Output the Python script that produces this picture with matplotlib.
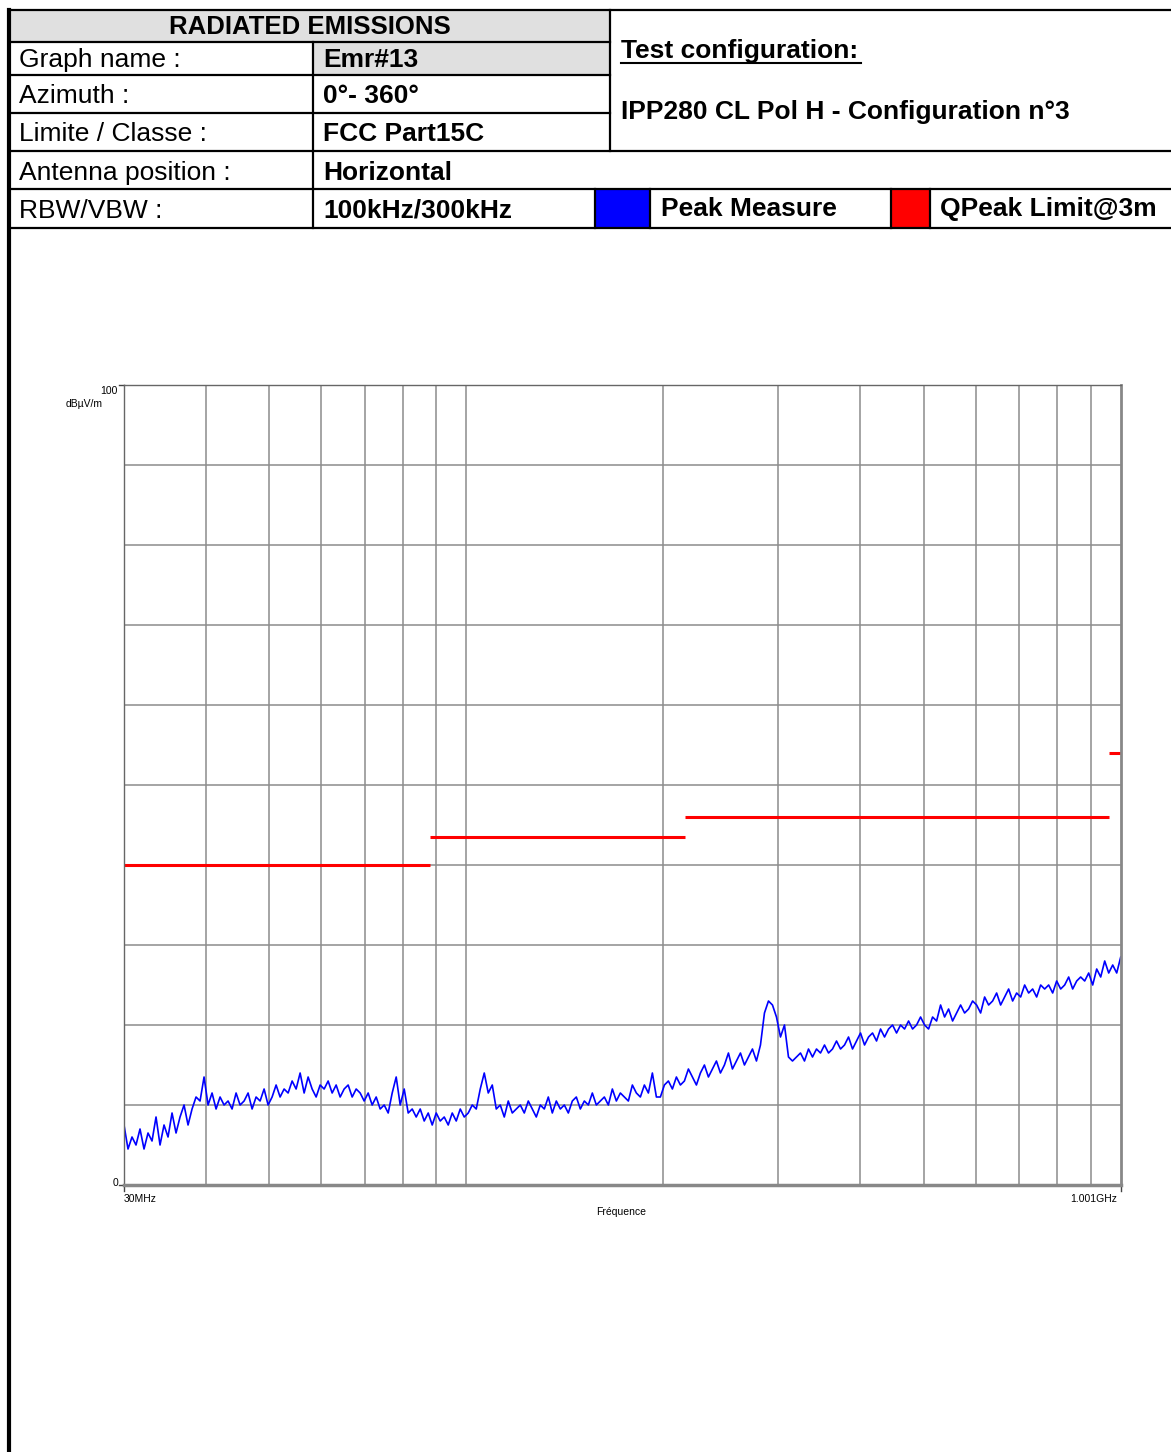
import matplotlib
matplotlib.use("Agg")
import matplotlib.pyplot as plt
import matplotlib.ticker as mtick
import numpy as np

plt.rcParams["font.family"] = ["Liberation Sans", "DejaVu Sans"]

# header table texts
title_text = "RADIATED EMISSIONS"
row_labels = ["Graph name :", "Azimuth :", "Limite / Classe :", "Antenna position :", "RBW/VBW :"]
row_values = ["Emr#13", "0°- 360°", "FCC Part15C", "Horizontal", "100kHz/300kHz"]
config_title = "Test configuration:"
config_text = "IPP280 CL Pol H - Configuration n°3"
legend_names = ["Peak Measure", "QPeak Limit@3m"]
legend_colors = ["#0000ff", "#ff0000"]

# limit lines (MHz start, MHz stop, dBuV/m)
limit_start = [30, 88, 216, 960]
limit_stop = [88, 216, 960, 1001]
limit_level = [40, 43.5, 46, 54]

# peak measure, dBuV/m, read along the sweep (log spaced 30MHz -> 1GHz)
peak_db = [
    7.5, 4.5, 6.0, 5.0, 7.0, 4.5, 6.5, 5.5, 8.5, 5.0,
    7.5, 6.0, 9.0, 6.5, 8.5, 10.0, 7.5, 9.5, 11.0, 10.5,
    13.5, 10.0, 11.5, 9.5, 11.0, 10.0, 10.5, 9.5, 11.5, 10.0,
    10.5, 11.5, 9.5, 11.0, 10.5, 12.0, 10.0, 11.0, 12.5, 11.0,
    12.0, 11.5, 13.0, 12.0, 14.0, 11.5, 13.5, 12.0, 11.0, 12.5,
    12.0, 13.0, 11.5, 12.5, 11.0, 12.0, 12.5, 11.0, 12.0, 11.5,
    10.5, 11.5, 10.0, 11.0, 9.5, 10.0, 9.0, 11.5, 13.5, 10.0,
    12.0, 9.0, 9.5, 8.5, 9.5, 8.0, 9.0, 7.5, 9.0, 8.0,
    8.5, 7.5, 9.0, 8.0, 9.5, 8.5, 9.0, 10.0, 9.5, 12.0,
    14.0, 11.5, 12.5, 9.5, 10.0, 8.5, 10.5, 9.0, 9.5, 10.0,
    9.0, 10.5, 9.5, 8.5, 10.0, 9.5, 11.0, 9.0, 10.5, 9.5,
    10.0, 9.0, 10.5, 11.0, 9.5, 10.5, 10.0, 11.5, 10.0, 10.5,
    11.0, 10.0, 12.0, 10.5, 11.5, 11.0, 10.5, 12.5, 11.5, 11.0,
    12.5, 11.5, 14.0, 11.0, 11.0, 12.5, 13.0, 12.0, 13.5, 12.5,
    13.0, 14.5, 13.5, 12.5, 14.0, 15.0, 13.5, 14.5, 15.5, 14.0,
    15.0, 16.5, 14.5, 15.5, 16.5, 15.0, 16.0, 17.0, 15.5, 17.5,
    21.5, 23.0, 22.5, 21.0, 18.5, 20.0, 16.0, 15.5, 16.0, 16.5,
    15.5, 17.0, 16.0, 17.0, 16.5, 17.5, 16.5, 17.0, 18.0, 17.0,
    17.5, 18.5, 17.0, 18.0, 19.0, 17.5, 18.5, 19.0, 18.0, 19.5,
    18.5, 19.5, 20.0, 19.0, 20.0, 19.5, 20.5, 19.5, 20.0, 21.0,
    20.0, 19.5, 21.0, 20.5, 22.5, 21.0, 22.0, 20.5, 21.5, 22.5,
    21.5, 22.0, 23.0, 22.5, 21.5, 23.5, 22.5, 23.0, 24.0, 22.5,
    23.5, 24.5, 23.0, 24.0, 23.5, 25.0, 24.0, 24.5, 23.5, 25.0,
    24.5, 25.0, 24.0, 25.5, 24.5, 25.0, 26.0, 24.5, 25.5, 26.0,
    25.5, 26.5, 25.0, 27.0, 26.0, 28.0, 26.5, 27.5, 26.5, 28.5,
]
freq_mhz = np.geomspace(30, 1000, len(peak_db))

W, H = 1171, 1452
fig = plt.figure(figsize=(W / 100, H / 100), dpi=100)

# background layer in pixel coordinates for the header table
bg = fig.add_axes([0, 0, 1, 1])
bg.set_xlim(0, W)
bg.set_ylim(H, 0)
bg.axis("off")

fs = 19
# gray cells
bg.add_patch(plt.Rectangle((9, 10), 601, 32, color="#e0e0e0", lw=0))
bg.add_patch(plt.Rectangle((313, 42), 297, 33, color="#e0e0e0", lw=0))
# legend colour boxes
bg.add_patch(plt.Rectangle((595, 189), 55, 39, color=legend_colors[0], lw=0))
bg.add_patch(plt.Rectangle((891, 189), 39, 39, color=legend_colors[1], lw=0))

lw = 1.6
# horizontal lines
bg.plot([9, W], [10, 10], color="k", lw=lw)
bg.plot([9, 610], [42, 42], color="k", lw=lw)
bg.plot([9, 610], [75, 75], color="k", lw=lw)
bg.plot([9, 610], [113, 113], color="k", lw=lw)
bg.plot([9, W], [151, 151], color="k", lw=lw)
bg.plot([9, W], [189, 189], color="k", lw=lw)
bg.plot([9, W], [228, 228], color="k", lw=lw)
# vertical lines
bg.plot([9, 9], [10, H], color="k", lw=3)
bg.plot([313, 313], [42, 228], color="k", lw=lw)
bg.plot([610, 610], [10, 151], color="k", lw=lw)
for xv in [595, 650, 891, 930]:
    bg.plot([xv, xv], [189, 228], color="k", lw=lw)

bg.text(310, 27, title_text, ha="center", va="center", fontsize=fs - 0.5, fontweight="bold")
row_y = [60, 96, 134, 173, 211]
for lab, val, yy in zip(row_labels, row_values, row_y):
    bg.text(19, yy, lab, ha="left", va="center", fontsize=fs)
    bg.text(323, yy, val, ha="left", va="center", fontsize=fs, fontweight="bold")

bg.text(621, 51, config_title, ha="left", va="center", fontsize=fs, fontweight="bold")
bg.plot([621, 861], [63, 63], color="k", lw=1.5)
bg.text(621, 112, config_text, ha="left", va="center", fontsize=fs, fontweight="bold")
bg.text(661, 209, legend_names[0], ha="left", va="center", fontsize=fs, fontweight="bold")
bg.text(940, 209, legend_names[1], ha="left", va="center", fontsize=fs, fontweight="bold")

# axis labels, drawn in pixel space
sfs = 7.5
bg.text(118, 391, "100", ha="right", va="center", fontsize=sfs)
bg.text(103, 404, "dBµV/m", ha="right", va="center", fontsize=sfs)
bg.text(118, 1183, "0", ha="right", va="center", fontsize=sfs)
bg.text(124, 1199, "30MHz", ha="left", va="center", fontsize=sfs)
bg.text(1117, 1199, "1.001GHz", ha="right", va="center", fontsize=sfs)
bg.text(621, 1212, "Fréquence", ha="center", va="center", fontsize=sfs)

# the chart
ax = fig.add_axes([124 / W, (H - 1185) / H, 997 / W, 800 / H])
ax.set_xscale("log")
ax.set_xlim(30, 1001)
ax.set_ylim(0, 100)
ax.xaxis.set_major_locator(mtick.FixedLocator([40, 50, 60, 70, 80, 90, 100, 200, 300, 400,
                                                500, 600, 700, 800, 900]))
ax.xaxis.set_minor_locator(mtick.NullLocator())
ax.yaxis.set_major_locator(mtick.MultipleLocator(10))
ax.grid(True, color="#8c8c8c", lw=1.1)
ax.tick_params(length=0, labelbottom=False, labelleft=False)
ax.set_axisbelow(True)

for s in ["top", "left"]:
    ax.spines[s].set_color("#666666")
    ax.spines[s].set_linewidth(1)
ax.spines["bottom"].set_color("#888888")
ax.spines["bottom"].set_linewidth(2.5)
ax.spines["right"].set_color("#888888")
ax.spines["right"].set_linewidth(2)

ax.plot(freq_mhz, peak_db, color=legend_colors[0], lw=1.2)
for a, b, lv in zip(limit_start, limit_stop, limit_level):
    ax.hlines(lv, a, b, color=legend_colors[1], lw=2.2)

# small ticks at the axis ends
bg.plot([124, 124], [1185, 1191], color="#444444", lw=1)
bg.plot([1121, 1121], [1185, 1191], color="#444444", lw=1)
bg.plot([119, 124], [385, 385], color="#444444", lw=1)
bg.plot([119, 124], [1185, 1185], color="#444444", lw=1)

fig.savefig("out.png", dpi=100)
